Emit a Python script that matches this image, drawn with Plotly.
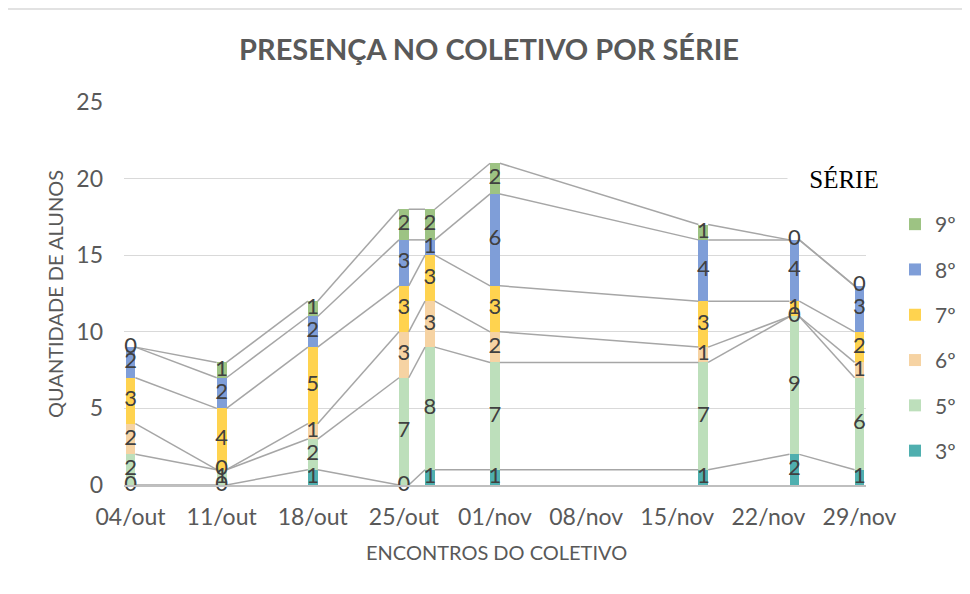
import pandas as pd
import numpy as np
import plotly.graph_objects as go

# ---------------- data ----------------
session_dates = ["2023-10-04", "2023-10-11", "2023-10-18", "2023-10-25", "2023-10-27",
                 "2023-11-01", "2023-11-17", "2023-11-24", "2023-11-29"]
series_names = ["3º", "5º", "6º", "7º", "8º", "9º"]
serie_3 = [0, 0, 1, 0, 1, 1, 1, 2, 1]
serie_5 = [2, 1, 2, 7, 8, 7, 7, 9, 6]
serie_6 = [2, 0, 1, 3, 3, 2, 1, 0, 1]
serie_7 = [3, 4, 5, 3, 3, 3, 3, 1, 2]
serie_8 = [2, 2, 2, 3, 1, 6, 4, 4, 3]
serie_9 = [0, 1, 1, 2, 2, 2, 1, 0, 0]
tick_dates = ["2023-10-04", "2023-10-11", "2023-10-18", "2023-10-25", "2023-11-01",
              "2023-11-08", "2023-11-15", "2023-11-22", "2023-11-29"]
tick_labels = ["04/out", "11/out", "18/out", "25/out", "01/nov",
               "08/nov", "15/nov", "22/nov", "29/nov"]
series_colors = ["#4FAFAF", "#BDDFBB", "#F6D3A3", "#FFD34F", "#7F9ED8", "#9DC383"]

all_series = [serie_3, serie_5, serie_6, serie_7, serie_8, serie_9]

# ---------------- geometry helpers ----------------
FONT = "Lato"
GREY = "#595959"
OFF = 8  # page body margin offset
half_day = pd.Timedelta(hours=12)
x_pos = pd.to_datetime(session_dates) + half_day
bar_w = pd.Timedelta(hours=18)
half_w = bar_w / 2
x_str = [t.isoformat() for t in x_pos]
tick_x = [(t + half_day).isoformat() for t in pd.to_datetime(tick_dates)]

vals = np.array(all_series, dtype=float)
cum = np.cumsum(vals, axis=0)

fig = go.Figure()

# stacked bars
n_series = len(series_names)
for k, name in enumerate(series_names):
    fig.add_trace(go.Bar(
        x=x_str, y=all_series[k], name=name,
        width=bar_w.total_seconds() * 1000,
        marker=dict(color=series_colors[k], line=dict(width=0)),
        legendgroup=name, legendrank=n_series - k,
        showlegend=True, hoverinfo="skip",
    ))

# series lines (connect top of each segment between neighbouring bars)
for k in range(n_series):
    lx, ly = [], []
    for i in range(len(x_pos) - 1):
        lx += [(x_pos[i] + half_w).isoformat(), (x_pos[i + 1] - half_w).isoformat(), None]
        ly += [cum[k, i], cum[k, i + 1], None]
    fig.add_trace(go.Scatter(
        x=lx, y=ly, mode="lines", line=dict(color="#A6A6A6", width=1.5),
        showlegend=False, hoverinfo="skip",
    ))

# data labels
for k in range(n_series):
    fig.add_trace(go.Scatter(
        x=x_str, y=cum[k] - vals[k] / 2, mode="text",
        text=[str(v) for v in all_series[k]],
        textfont=dict(family=FONT, size=22, color="#404040"),
        textposition="middle center", cliponaxis=False,
        showlegend=False, hoverinfo="skip",
    ))

PL, PT, PW, PH = 124 - OFF, 102 - OFF, 742, 383

def px_x(px):
    return (px - 124) / PW

def px_y(py):
    return (485 - py) / PH

fig.update_layout(
    width=970, height=594, autosize=False,
    margin=dict(l=PL, r=970 - PL - PW, t=PT, b=594 - PT - PH),
    paper_bgcolor="white", plot_bgcolor="white",
    barmode="stack", bargap=0,
    hovermode=False,
    title=dict(text="PRESENÇA NO COLETIVO POR SÉRIE", x=(489 - OFF) / 970, xref="container",
               y=1 - (50 - OFF) / 594, yref="container", xanchor="center", yanchor="middle",
               font=dict(family=FONT, size=29, color=GREY, weight="bold")),
    xaxis=dict(type="date", range=["2023-10-04", "2023-11-30"],
               tickmode="array", tickvals=tick_x, ticktext=tick_labels,
               showgrid=False, zeroline=False, showline=True,
               linecolor="#BFBFBF", linewidth=1.5, ticks="",
               tickfont=dict(family=FONT, size=23, color=GREY),
               ticklabelstandoff=11),
    yaxis=dict(range=[0, 25], dtick=5, tick0=0, showgrid=True,
               gridcolor="#D9D9D9", gridwidth=1.2, zeroline=False,
               showline=False, ticks="",
               tickfont=dict(family=FONT, size=23, color=GREY),
               ticklabelstandoff=20),
    legend=dict(x=px_x(895), y=px_y(204), xanchor="left", yanchor="top",
                traceorder="grouped", tracegroupgap=15,
                font=dict(family=FONT, size=21, color=GREY),
                bgcolor="rgba(0,0,0,0)"),
    annotations=[
        dict(text="QUANTIDADE DE ALUNOS", xref="paper", yref="paper",
             x=px_x(55), y=px_y(294), textangle=-90, showarrow=False,
             xanchor="center", yanchor="middle",
             font=dict(family=FONT, size=20, color=GREY)),
        dict(text="ENCONTROS DO COLETIVO", xref="paper", yref="paper",
             x=px_x(496), y=px_y(552), showarrow=False,
             xanchor="center", yanchor="middle",
             font=dict(family=FONT, size=20, color=GREY)),
        dict(text="SÉRIE", xref="paper", yref="paper",
             x=px_x(844), y=px_y(179), showarrow=False,
             xanchor="center", yanchor="middle", width=112, height=34,
             bgcolor="white", borderpad=0,
             font=dict(family="Liberation Serif", size=25, color="black")),
    ],
    shapes=[
        dict(type="rect", xref="paper", yref="paper",
             x0=px_x(4), x1=px_x(990), y0=px_y(610), y1=px_y(9),
             line=dict(color="#D9D9D9", width=1.5), fillcolor="rgba(0,0,0,0)"),
    ],
)

fig.write_html("out.html")
